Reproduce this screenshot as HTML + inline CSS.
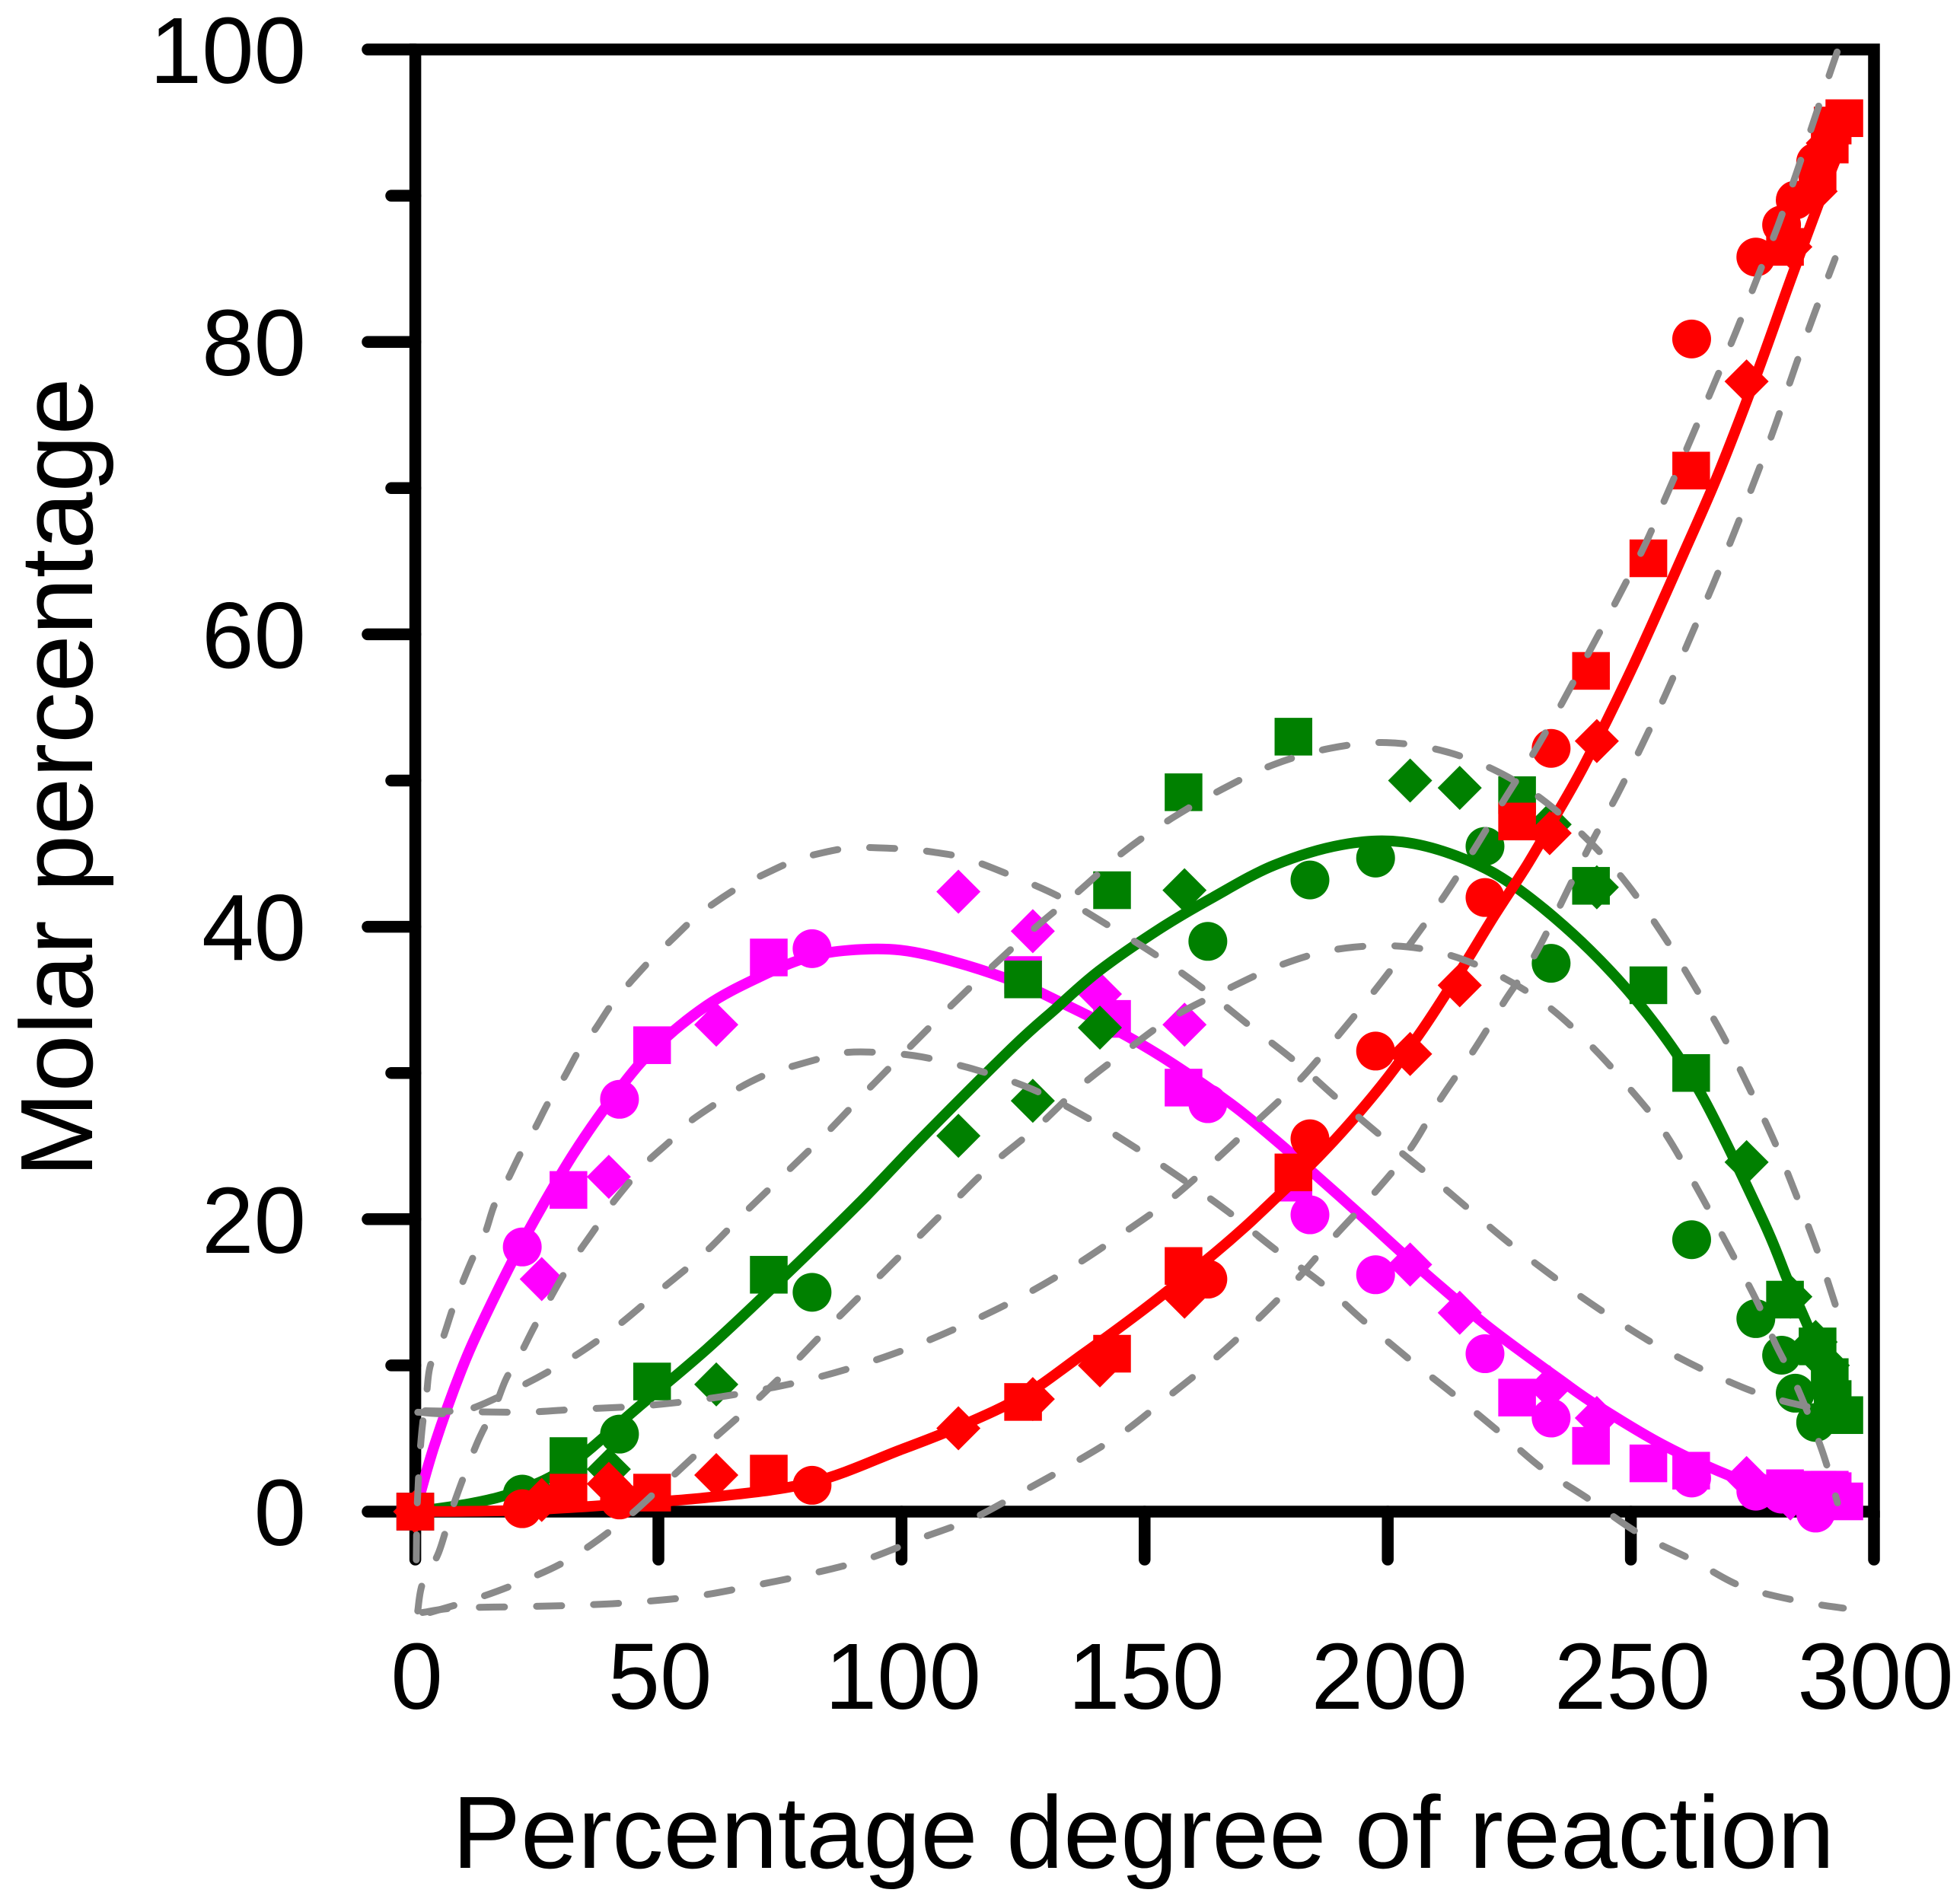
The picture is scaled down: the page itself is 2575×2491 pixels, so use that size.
<!DOCTYPE html>
<html lang="en">
<head>
<meta charset="utf-8">
<title>Molar percentage vs degree of reaction</title>
<style>
html,body{margin:0;padding:0;background:#fff;}
svg{display:block;}
text{font-family:"Liberation Sans",Arial,sans-serif;fill:#000;}
</style>
</head>
<body>
<svg id="chart" xmlns="http://www.w3.org/2000/svg" width="2575" height="2491" viewBox="0 0 2575 2491">
  <rect x="0" y="0" width="2575" height="2491" fill="#ffffff"/>
  <g id="axes"></g>
  <g id="series"></g>
  <g id="bands"></g>
  <text x="594" y="2454" font-size="135">Percentage degree of reaction</text>
  <text transform="translate(121 1547) rotate(-90)" font-size="135">Molar percentage</text>
</svg>
<script>
// Axis ticks
const xTickLabels = [0, 50, 100, 150, 200, 250, 300];
const yTickLabels = [0, 20, 40, 60, 80, 100];
const yMinorTicks = [10, 30, 50, 70, 90];

// Fitted curves
const magentaFitX = [0,3.9,9.5,14.3,20.7,26.3,32.6,39.9,48.6,59.9,71,80.6,89.4,99.8,110.9,123.7,131.7,144.3,155,167.7,176.6,185.6,194.7,203.6,212.6,221.6,235.5,243.3,256.4,270,280,291.5];
const magentaFitY = [0,4.5,9.7,13.3,17.6,21,24.5,28,31.5,34.6,36.6,37.9,38.4,38.4,37.6,36.2,35,32.9,30.8,27.9,25.5,22.9,20.2,17.5,14.9,12.4,9,7.2,4.6,2.5,1.4,0.3];
const greenFitX = [0,12,21,31.4,45.7,59.9,73.4,91,104.6,123,131.7,140.7,153.3,164,176.6,190.5,203,216,227.2,241.6,254.4,264.7,277.2,282.3,287,293];
const greenFitY = [0,0.6,1.4,3.1,7.1,11.1,15.3,21,25.7,31.8,34.4,37,39.9,42,44.2,45.6,45.8,44.6,42.5,38.4,33.6,28.4,19.9,15.8,12.2,7];
const redFitX = [0,22,42,61,81.6,99.6,111.8,125,137,149.7,162.3,170.4,178.4,185.6,192.8,200,207.2,214.8,222,228.8,234.4,240.8,250.4,260.8,268,275.9,282.9,289.9,293];
const redFitY = [0,0.1,0.5,1,2,4.2,5.8,7.9,10.7,13.8,17.1,19.4,21.9,24.2,26.8,29.7,33,36.9,40.8,44.3,47.5,51.3,57.8,65.5,71,77.8,84.3,90.6,93.2];

// Confidence bands
const magentaUpperX = [0.2,0.4,1.2,2.3,3.1,5.5,7.5,9.5,11.9,14.3,16.3,19,21.8,24.6,27.4,30.6,33.6,37,40.6,44.2,48.6,52.7,57.4,61.4,67,71.8,77.8,83,89.4,95,101.4,106.6,113,121.1,132.2,142.5,152.6,162.3,171.7,181.3,190.1,199.3,208.5,217.7,226,236.8,246,256.2,266.8,277.8,288.7,291.5];
const magentaUpperY = [-3.3,0.5,5,8,10,11.7,13.7,15.5,17.4,19,21,22.7,24.6,26.2,28,29.7,31.5,33,34.8,36.2,37.8,39.1,40.6,41.6,42.8,43.6,44.5,45,45.4,45.4,45.3,45.1,44.7,43.7,42.1,40.1,38,35.7,33.2,30.7,28.1,25.5,23,20.4,18.1,15.4,13.3,11.2,9.4,7.9,7,6.8];
const magentaLowerX = [0.5,1.5,4.8,8,12.6,16.3,18.7,21.5,24.4,27.1,30.3,33.3,37.1,40.1,44.2,47.6,52.6,56.2,61.8,66.2,72.2,77,83.4,88.6,95.4,104.2,115.5,126.8,137.3,147.6,157.5,167.2,176.6,186.1,195.2,204.5,213.6,223.1,232,241.6,251.7,262.6,272.7,284.2,293.7];
const magentaLowerY = [-6.8,-4.9,-2.8,0.6,4.6,7.1,9.1,10.7,12.6,14.2,16.1,17.6,19.4,20.9,22.6,23.9,25.4,26.6,27.9,28.9,29.9,30.4,31,31.4,31.4,31.1,30.2,28.9,27.1,25,22.8,20.5,18,15.7,13,10.4,8,5.4,2.9,0.8,-1.5,-3.3,-5.1,-6.1,-6.6];
const greenUpperX = [0.5,9.1,20,31.1,40.8,50.2,59.2,67.6,76,84.6,93.2,101.5,110.2,118.7,127.7,136.7,145.6,155.5,165.9,176.6,188.1,199.7,211.7,222.7,232.2,241.6,249.3,256.5,262.8,268.7,274,279.4,283.6,288.4,292.3];
const greenUpperY = [6.8,6.8,8.3,10.3,12.5,15.1,17.6,20.4,23.1,25.9,28.9,31.7,34.6,37.3,40,42.5,45.1,47.4,49.4,51.1,52.2,52.6,52,50.6,48.6,45.8,42.9,39.5,36.1,32.7,29.2,25.4,22,17.8,13.9];
const greenLowerX = [3,12,21,31.4,42.5,50.9,58.7,68.2,76.6,85,93.4,101.8,110.2,118.8,127.9,136.8,146.1,155.7,166.8,177.3,188.5,200.9,212.3,223.3,233.2,242,249.6,256.8,263.8,269.6,275.9,279.7,284.2,289.3,292.5];
const greenLowerY = [-6.9,-6,-4.9,-3.3,-0.7,1.8,4.2,7,9.7,12.6,15.4,18.2,21,23.8,26.3,29.1,31.5,33.8,35.7,37.3,38.4,38.7,38.1,36.6,34.5,31.8,29,26,22,18.4,14.4,11.5,8.5,4.2,0.6];
const redUpperX = [2,21.2,33.2,45.4,57.4,69,80.6,92.2,103.2,114.3,125.2,135.5,145.4,155.1,164.1,172.8,181.3,189.4,197,204.1,211,217.6,223.8,230.2,236,241.6,247.5,253,257.6,262.4,266.7,271.5,275.9,280.3,284.2,288.1,292.6];
const redUpperY = [6.9,6.8,7,7.2,7.6,8.2,9,10.1,11.4,13,14.8,16.8,19,21.3,23.9,26.6,29.3,32.4,35.5,38.6,41.8,45.2,48.6,52,55.4,58.9,62.6,66.2,69.7,73.4,76.8,80.6,84.3,88,91.7,95.6,100];
const redLowerX = [1.5,8,21,33.4,45,57.4,69,80.7,92.4,104.1,114.5,125.1,135.3,145.5,155,163.9,172.8,181.1,188.7,197,204.6,210.8,217.6,224,230.8,240.4,247.3,252.4,257.3,262.1,266.9,271.3,275.9,279.8,283.8,287.7,292];
const redLowerY = [-6.9,-6.6,-6.5,-6.4,-6.2,-5.8,-5.1,-4.3,-3.3,-1.8,-0.5,1.4,3.3,5.4,7.9,10.3,13,15.8,18.7,21.7,24.8,28.2,31.5,34.9,38.4,44.8,49.1,52.5,56,59.7,63.4,67,70.9,74.4,78.3,81.9,85.7];

// Measured points: circles
const circleX = [22,42,81.6,163,184,197.5,220,233.6,262.5,275.7,281,283.8,288];
const magentaCircleY = [18.1,28.2,38.5,27.9,20.3,16.2,10.8,6.4,2.3,1.4,1.2,1.3,-0.1];
const greenCircleY = [1.2,5.3,15,39,43.2,44.7,45.5,37.5,18.6,13.2,10.7,8.1,6.1];
const redCircleY = [0.2,0.8,1.8,15.9,25.5,31.5,42,52.2,80.2,85.8,88,89.7,92.3];

// Measured points: squares
const squareX = [0,31.5,48.7,72.7,125,143.3,158,180.6,226.6,241.8,253.6,262.4,281.7,288.4,290.9,291.5,293.9];
const magentaSquareY = [0,22,31.9,37.9,36.7,33.7,29,22.5,7.8,4.5,3.3,2.8,1.6,1.5,1.5,1.4,0.7];
const greenSquareY = [0,3.8,8.9,16.2,36.4,42.5,49.2,53,49,42.8,36,30,14.5,11.3,9.2,7.7,6.6];
const redSquareY = [0,1.3,1.3,2.6,7.5,10.8,16.8,23.2,47.2,57.5,65.2,71.2,86.5,91.5,93.5,94.8,95.3];

// Measured points: diamonds
const diamondX = [0,26,39.8,61.9,111.7,127,140.8,158.2,204.6,214.8,233.3,243,273.8,282.8,288,290.5];
const magentaDiamondY = [0,15.9,22.9,33.3,42.4,39.7,35.4,33.3,16.9,13.6,8.5,6.4,2.3,0.9,0.6,0.5];
const greenDiamondY = [0,0.9,2.9,8.7,25.7,28.1,33.1,42.5,50,49.5,47,42.7,23.9,14.7,11.6,10];
const redDiamondY = [0,0.8,1.9,2.5,5.7,7.7,10,14.7,31.3,36,46.4,52.7,77.3,86.5,90.3,93.6];

const NS = 'http://www.w3.org/2000/svg';
const xScale = v => 545.6 + 6.388 * v;
const yScale = v => 1986 - 19.21 * v;

function make(tag, attrs, parent) {
  const el = document.createElementNS(NS, tag);
  for (const k in attrs) el.setAttribute(k, attrs[k]);
  parent.appendChild(el);
  return el;
}

function smoothPath(xs, ys) {
  const p = xs.map((x, i) => [xScale(x), yScale(ys[i])]);
  let d = 'M' + p[0][0].toFixed(1) + ' ' + p[0][1].toFixed(1);
  for (let i = 0; i < p.length - 1; i++) {
    const a = p[Math.max(i - 1, 0)], b = p[i], c = p[i + 1], e = p[Math.min(i + 2, p.length - 1)];
    const c1x = b[0] + (c[0] - a[0]) / 6, c1y = b[1] + (c[1] - a[1]) / 6;
    const c2x = c[0] - (e[0] - b[0]) / 6, c2y = c[1] - (e[1] - b[1]) / 6;
    d += 'C' + c1x.toFixed(1) + ' ' + c1y.toFixed(1) + ' ' + c2x.toFixed(1) + ' ' + c2y.toFixed(1) + ' ' + c[0].toFixed(1) + ' ' + c[1].toFixed(1);
  }
  return d;
}

// Axes
const axes = document.getElementById('axes');
const AXW = 15.5;
const frame = make('rect', {x: xScale(0), y: yScale(100), width: xScale(300) - xScale(0), height: yScale(0) - yScale(100), fill: 'none', stroke: '#000', 'stroke-width': AXW}, axes);



xTickLabels.forEach(v => {
  const t = make('line', {x1: xScale(v), x2: xScale(v), y1: yScale(0), y2: 2049, stroke: '#000', 'stroke-width': AXW, 'stroke-linecap': 'round'}, axes);
  
  
  const l = make('text', {x: xScale(v) + 2, y: 2245, 'font-size': 123, 'text-anchor': 'middle'}, axes);
  l.textContent = String(v);
  
  
});
yTickLabels.forEach(v => {
  const t = make('line', {x1: xScale(0), x2: 483, y1: yScale(v), y2: yScale(v), stroke: '#000', 'stroke-width': AXW, 'stroke-linecap': 'round'}, axes);
  
  
  const l = make('text', {x: 402, y: yScale(v) + 44, 'font-size': 123, 'text-anchor': 'end'}, axes);
  l.textContent = String(v);
  
  
});
yMinorTicks.forEach(v => {
  const t = make('line', {x1: xScale(0), x2: 514, y1: yScale(v), y2: yScale(v), stroke: '#000', 'stroke-width': AXW, 'stroke-linecap': 'round'}, axes);
  
  
});

// Series
const seriesRoot = document.getElementById('series');
const bandRoot = document.getElementById('bands');

function drawSeries(name, color, fitX, fitY, cY, sY, dY) {
  const g = make('g', {fill: color}, seriesRoot);
  
  

  const fit = make('path', {d: smoothPath(fitX, fitY), fill: 'none', stroke: color, 'stroke-width': 14, 'stroke-linejoin': 'round'}, g);
  
  

  circleX.forEach((x, i) => {
    const c = make('circle', {cx: xScale(x), cy: yScale(cY[i]), r: 25.5}, g);
    
    
  });
  squareX.forEach((x, i) => {
    const s = make('rect', {x: xScale(x) - 24.75, y: yScale(sY[i]) - 24.75, width: 49.5, height: 49.5}, g);
    
    
  });
  diamondX.forEach((x, i) => {
    const cx = xScale(x), cy = yScale(dY[i]);
    const dd = make('polygon', {points: [[cx - 29, cy], [cx, cy - 29], [cx + 29, cy], [cx, cy + 29]].map(q => q.join(',')).join(' ')}, g);
    
    
  });
}

function drawBand(name, xs, ys) {
  const b = make('path', {d: smoothPath(xs, ys), fill: 'none', stroke: '#8a8a8a', 'stroke-width': 9, 'stroke-linecap': 'round', 'stroke-dasharray': '33 42'}, bandRoot);
  
  
}

drawSeries('magenta', '#ff00ff', magentaFitX, magentaFitY, magentaCircleY, magentaSquareY, magentaDiamondY);
drawSeries('green', '#008000', greenFitX, greenFitY, greenCircleY, greenSquareY, greenDiamondY);
drawSeries('red', '#ff0000', redFitX, redFitY, redCircleY, redSquareY, redDiamondY);

drawBand('magenta-upper-band', magentaUpperX, magentaUpperY);
drawBand('magenta-lower-band', magentaLowerX, magentaLowerY);
drawBand('green-upper-band', greenUpperX, greenUpperY);
drawBand('green-lower-band', greenLowerX, greenLowerY);
drawBand('red-upper-band', redUpperX, redUpperY);
drawBand('red-lower-band', redLowerX, redLowerY);
</script>
</body>
</html>
